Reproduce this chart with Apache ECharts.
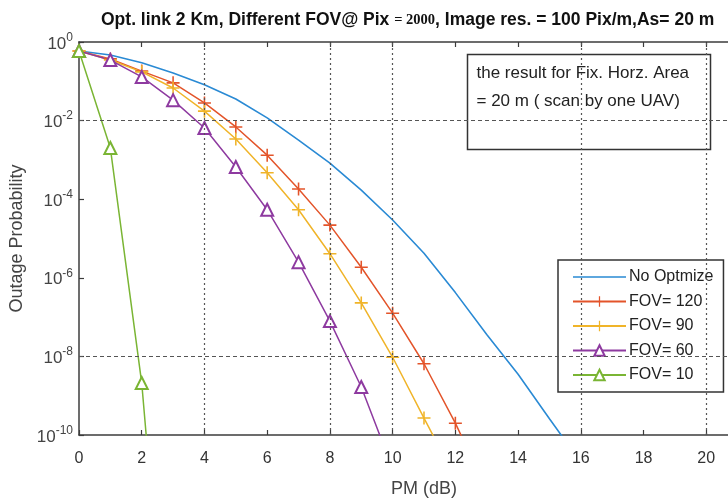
<!doctype html>
<html>
<head>
<meta charset="utf-8">
<script src="https://cdn.jsdelivr.net/npm/echarts@6/dist/echarts.min.js"></script>
<style>
    html, body {margin: 0; background: #fff;}
    #chart {width: 728px; height: 500px;}
</style>
</head>
<body>
<div id="chart"></div>
<script>
    // PM (dB) positions
    const pmMarked = [0, 1, 2, 3, 4, 5, 6, 7, 8, 9, 10, 11, 12, 13];
    const pmSmooth = [0, 1, 2, 3, 4, 5, 6, 7, 8, 9, 10, 11, 12, 13, 14, 15, 16];

    // outage probability (last value of each lies below the axis)
    const noOptimize = [0.589, 0.468, 0.295, 0.162, 0.0813, 0.0355, 0.0117, 3.2e-3, 8.3e-4, 1.7e-4,
        2.95e-5, 4.2e-6, 4.2e-7, 3.6e-8, 3.5e-9, 2.6e-10, 2e-11];
    const fov120 = [0.589, 0.372, 0.182, 0.0912, 0.0282, 6.9e-3, 1.32e-3, 1.82e-4, 2.19e-5, 1.86e-6,
        1.26e-7, 6.5e-9, 2.0e-10, 4e-12];
    const fov90 = [0.589, 0.347, 0.174, 0.0676, 0.0174, 3.4e-3, 4.7e-4, 5.4e-5, 4.1e-6, 2.3e-7,
        9.5e-9, 2.7e-10, 8e-12];
    const fov60 = [0.589, 0.347, 0.129, 0.0331, 6.5e-3, 6.6e-4, 5.4e-5, 2.5e-6, 7.9e-8, 1.66e-9, 1.4e-11];
    const fov10 = [0.589, 2.0e-3, 2.1e-9, 1e-18];

    const names = ['No Optmize', 'FOV= 120', 'FOV= 90', 'FOV= 60', 'FOV= 10'];
    const colors = ['#2a8ad4', '#e3542a', '#f0b429', '#8e3aa0', '#7ab534'];

    // dotted grid lines that appear in the figure
    const gridX = [4, 8, 10, 16, 20];
    const gridY = [1e-2, 1e-8];
    const xTicks = [0, 22, 2];

    const plus = 'path://M8.8,0h2.4v8.8h8.8v2.4h-8.8v8.8h-2.4v-8.8h-8.8v-2.4h8.8z';
    // plain line icon for the legend entry without markers
    const lineIcon = 'path://M0,0h0.01v0.01h-0.01z M0,5.7h53v1.6h-53z M52.99,12.99h0.01v0.01h-0.01z';

    function pairs(xs, ys) {
        return ys.map(function (y, i) {
            // the point past the axis bottom only continues the line
            if (i === ys.length - 1 && y < 1e-10) return {value: [xs[i], y], symbol: 'none'};
            return [xs[i], y];
        });
    }

    let chart = echarts.init(document.getElementById('chart'));

    const axisLine = {lineStyle: {color: '#3c3c3c', width: 1.5}};
    const axisTick = {inside: true, length: 5, lineStyle: {color: '#3c3c3c', width: 1.2}};

    let gridLines = gridX.map(function (x) {
        return [{coord: [x, 1e-10]}, {coord: [x, 1]}];
    }).concat(gridY.map(function (y) {
        return [{coord: [0, y], lineStyle: {type: [4, 3]}}, {coord: [22, y]}];
    }));

    chart.setOption({
        animation: false,
        backgroundColor: '#fff',
        title: {
            text: '{a|Opt. link 2 Km, Different FOV@ Pix }{b|= 2000}{a|, Image res. = 100 Pix/m,As= 20 m}',
            left: 96,
            top: 6,
            textStyle: {
                rich: {
                    a: {fontFamily: 'Liberation Sans', fontSize: 17.5, fontWeight: 'bold', color: '#111'},
                    b: {fontFamily: 'Liberation Serif', fontSize: 14.5, color: '#111'}
                }
            }
        },
        grid: {left: 79, right: -41, top: 42, bottom: 65, outerBoundsMode: 'none', containLabel: false},
        legend: {
            orient: 'vertical',
            left: 558,
            top: 260,
            padding: [9, 10, 9, 14],
            itemWidth: 53,
            itemHeight: 13,
            itemGap: 8.5,
            backgroundColor: '#fff',
            borderColor: '#333',
            borderWidth: 1.5,
            borderRadius: 0,
            textStyle: {fontFamily: 'Liberation Sans', fontSize: 16, color: '#222', padding: [0, 0, 0, -2]},
            data: [{name: names[0], icon: lineIcon}, names[1], names[2], names[3], names[4]]
        },
        xAxis: [{
            type: 'value',
            min: xTicks[0], max: xTicks[1], interval: xTicks[2],
            name: 'PM (dB)',
            nameLocation: 'middle',
            nameGap: 45,
            nameTextStyle: {fontFamily: 'Liberation Sans', fontSize: 18, color: '#444'},
            axisLine: axisLine,
            axisTick: axisTick,
            axisLabel: {fontFamily: 'Liberation Sans', fontSize: 16, color: '#333', margin: 16},
            splitLine: {show: false}
        }, {
            type: 'value',
            position: 'top',
            min: xTicks[0], max: xTicks[1], interval: xTicks[2],
            axisLine: axisLine,
            axisTick: axisTick,
            axisLabel: {show: false},
            splitLine: {show: false}
        }],
        yAxis: {
            type: 'log',
            logBase: 10,
            min: 1e-10,
            max: 1,
            interval: 2,
            splitNumber: 5,
            name: 'Outage Probability',
            nameLocation: 'middle',
            nameGap: 36,
            nameTextStyle: {fontFamily: 'Liberation Sans', fontSize: 18, color: '#444'},
            axisLine: axisLine,
            axisTick: axisTick,
            axisLabel: {
                margin: 6,
                formatter: function (v) {
                    return '{b|10}{s|' + Math.round(Math.log10(v)) + '}';
                },
                rich: {
                    b: {fontFamily: 'Liberation Sans', fontSize: 17, color: '#444', verticalAlign: 'bottom'},
                    s: {fontFamily: 'Liberation Sans', fontSize: 12, color: '#444', verticalAlign: 'bottom', padding: [0, 0, 9, 0]}
                }
            },
            splitLine: {show: false}
        },
        series: [{
            name: names[0],
            type: 'line',
            color: colors[0],
            showSymbol: false,
            symbol: 'none',
            lineStyle: {width: 1.6},
            data: pairs(pmSmooth, noOptimize),
            markLine: {
                silent: true,
                symbol: 'none',
                label: {show: false},
                lineStyle: {color: '#555', width: 1.2, type: [2, 3]},
                data: gridLines
            },
            z: 3
        }, {
            name: names[1],
            type: 'line',
            color: colors[1],
            symbol: plus,
            symbolSize: 13,
            lineStyle: {width: 1.5},
            data: pairs(pmMarked, fov120)
        }, {
            name: names[2],
            type: 'line',
            color: colors[2],
            symbol: plus,
            symbolSize: 13,
            lineStyle: {width: 1.5},
            data: pairs(pmMarked, fov90)
        }, {
            name: names[3],
            type: 'line',
            color: colors[3],
            symbol: 'emptyTriangle',
            symbolSize: 12,
            itemStyle: {borderWidth: 1.4},
            lineStyle: {width: 1.5},
            data: pairs(pmMarked, fov60)
        }, {
            name: names[4],
            type: 'line',
            color: colors[4],
            symbol: 'emptyTriangle',
            symbolSize: 12,
            itemStyle: {borderWidth: 1.4},
            lineStyle: {width: 1.5},
            data: pairs(pmMarked, fov10)
        }],
        graphic: [{
            type: 'group',
            left: 465,
            top: 52,
            children: [{
                type: 'rect',
                shape: {x: 0, y: 0, width: 243, height: 95},
                style: {fill: 'none', stroke: '#333', lineWidth: 1.5}
            }, {
                type: 'text',
                x: 9, y: 10,
                style: {text: 'the result for Fix. Horz. Area', font: '17px "Liberation Sans"', fill: '#222'}
            }, {
                type: 'text',
                x: 9, y: 38,
                style: {text: '= 20 m ( scan by one UAV)', font: '17px "Liberation Sans"', fill: '#222'}
            }]
        }]
    });
</script>
</body>
</html>
